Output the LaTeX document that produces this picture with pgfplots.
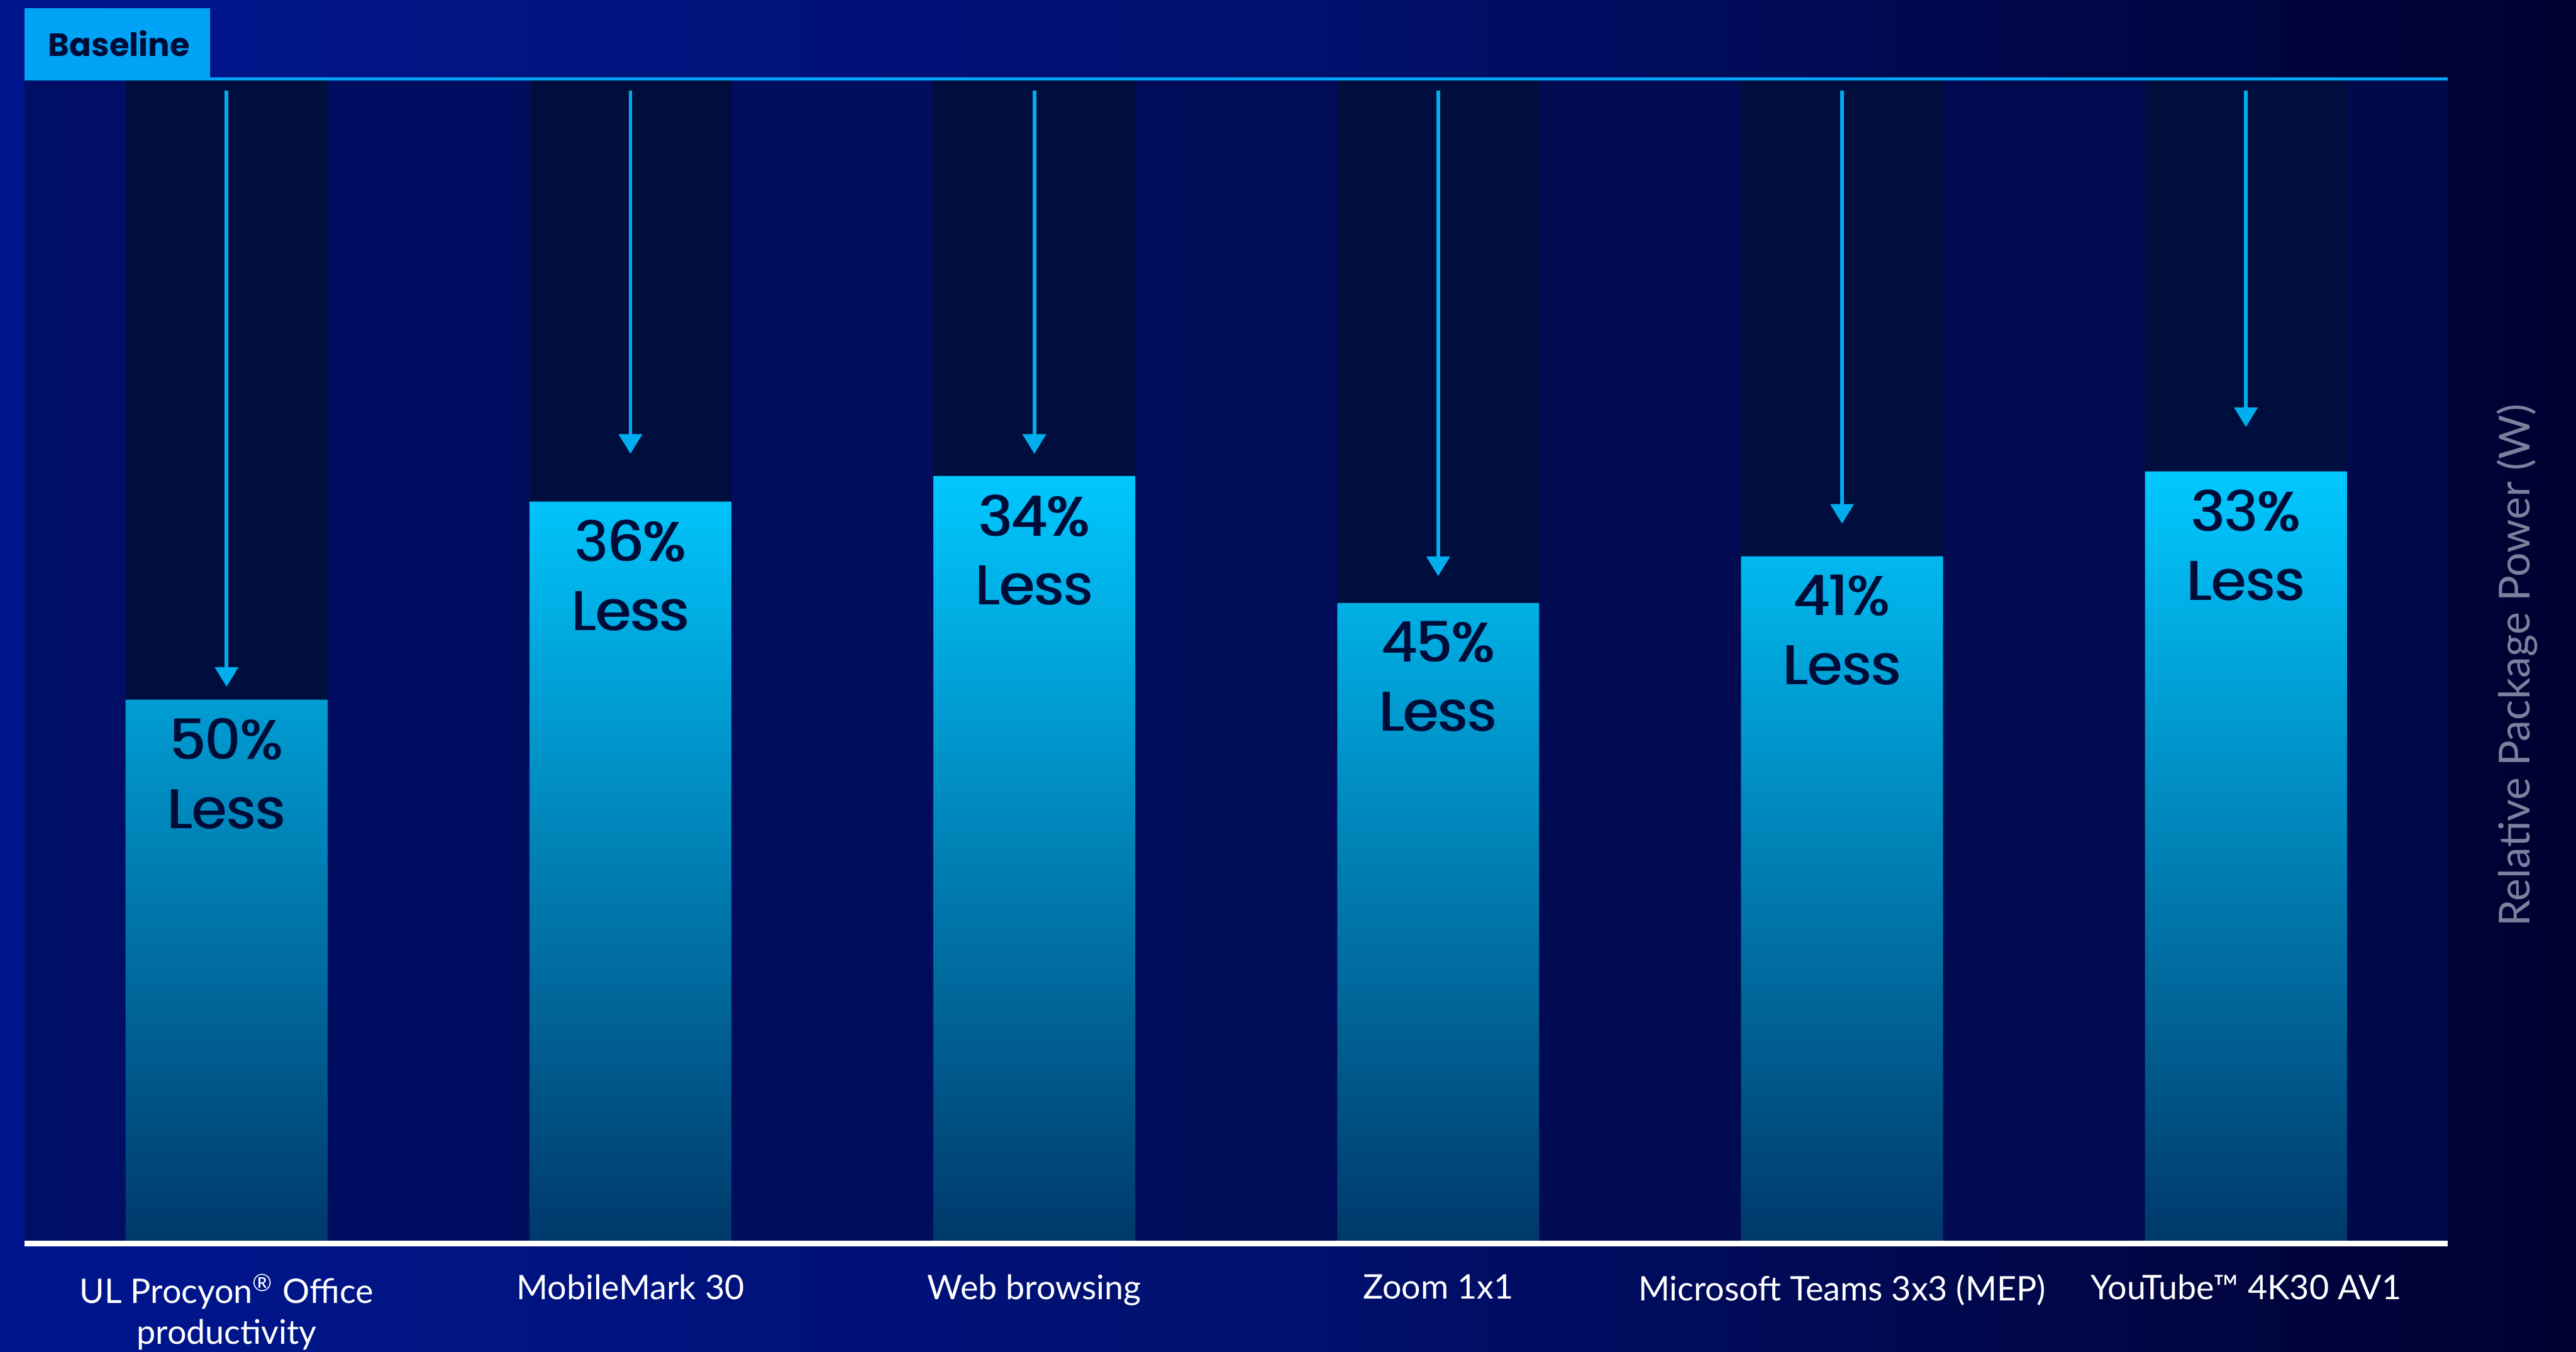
\documentclass[border=0pt]{standalone}
\usepackage{pgfplots}
\pgfplotsset{compat=1.18}
\usepackage{pgfplotstable}
\usepackage{fontspec}
\setmainfont{Lato}
\newfontfamily\numfont{Poppins}
\newfontfamily\tagfont{Poppins}
\newcommand\fb[1]{\rlap{\kern0.5pt#1}#1}
\usetikzlibrary{arrows.meta}
\definecolor{bgl}{HTML}{00168F}
\definecolor{bgm}{HTML}{00106E}
\definecolor{bgr}{HTML}{000030}
\definecolor{pbl}{HTML}{000F66}
\definecolor{pbr}{HTML}{00094A}
\definecolor{basebar}{HTML}{000E3E}
\definecolor{cyantop}{HTML}{00C8FF}
\definecolor{cyanbot}{HTML}{00386A}
\definecolor{arrowc}{HTML}{00AEEF}
\definecolor{tagc}{HTML}{00A3F5}
\definecolor{navy}{HTML}{000C38}
\definecolor{labgray}{HTML}{7C809D}

\pgfplotstableread{
x base red st dv pct
0 1 0.467 0.99 -0.512 50
1 1 0.637 0.99 -0.312 36
2 1 0.659 0.99 -0.312 34
3 1 0.550 0.99 -0.417 45
4 1 0.590 0.99 -0.372 41
5 1 0.663 0.99 -0.289 33
}\data

\begin{document}
\begin{tikzpicture}
\fill[use as bounding box, left color=bgl, right color=bgr, middle color=bgm] (-7.5pt,-33pt) rectangle (776.5pt,378.5pt);
\begin{axis}[
  at={(0,0)}, anchor=south west,
  width=737.5pt, height=354.5pt, scale only axis,
  xmin=-0.5, xmax=5.5, ymin=0, ymax=1,
  axis line style={draw=none},
  ytick=\empty,
  xtick={0,...,5},
  xticklabels={{UL Procyon\textsuperscript{®} Office\\productivity}, MobileMark 30, Web browsing, Zoom 1x1, Microsoft Teams 3x3 (MEP), YouTube™ 4K30 AV1},
  major tick length=0pt,
  xticklabel style={align=center, text=white, font=\fontsize{10.3}{12.3}\selectfont, inner sep=0pt, anchor=north, yshift=-9.2pt},
  axis background/.style={left color=pbl, right color=pbr},
  clip=false,
]
\addplot[ybar, bar width=0.5, bar shift=0pt, fill=basebar, draw=none] table[x=x,y=base]\data;
\addplot[ybar, bar width=0.5, bar shift=0pt, top color=cyantop, bottom color=cyanbot, draw=none,
  point meta=explicit symbolic,
  nodes near coords={\fb{\pgfplotspointmeta\%}\\\fb{Less}},
  every node near coord/.append style={anchor=north, align=center, inner sep=0pt, yshift=-5.5pt, xshift=-0.25pt, text=navy, font=\numfont\fontsize{17}{21}\selectfont}]
  table[x=x,y=red,meta=pct]\data;
\addplot[quiver={u=0,v=\thisrow{dv}}, -{Triangle[width=7pt,length=6pt]}, line width=1.1pt, draw=arrowc, fill=arrowc] table[x=x,y=st]\data;
\draw[tagc, line width=0.9pt] (rel axis cs:0,1) -- (rel axis cs:1,1);
\draw[white, line width=1.75pt] (rel axis cs:0,0) -- (rel axis cs:1,0);
\fill[tagc] (rel axis cs:0,1) rectangle ([xshift=56.5pt,yshift=21.5pt]rel axis cs:0,1);
\node[font=\tagfont\bfseries\fontsize{9.8}{12}\selectfont, text=navy, inner sep=0pt] at ([xshift=28.75pt, yshift=10.75pt]rel axis cs:0,1) {Baseline};
\node[rotate=90, text=labgray, font=\fontsize{13}{15}\selectfont, inner sep=0pt] at ([xshift=21pt]rel axis cs:1,0.4965) {Relative Package Power (W)};
\end{axis}
\end{tikzpicture}
\end{document}
